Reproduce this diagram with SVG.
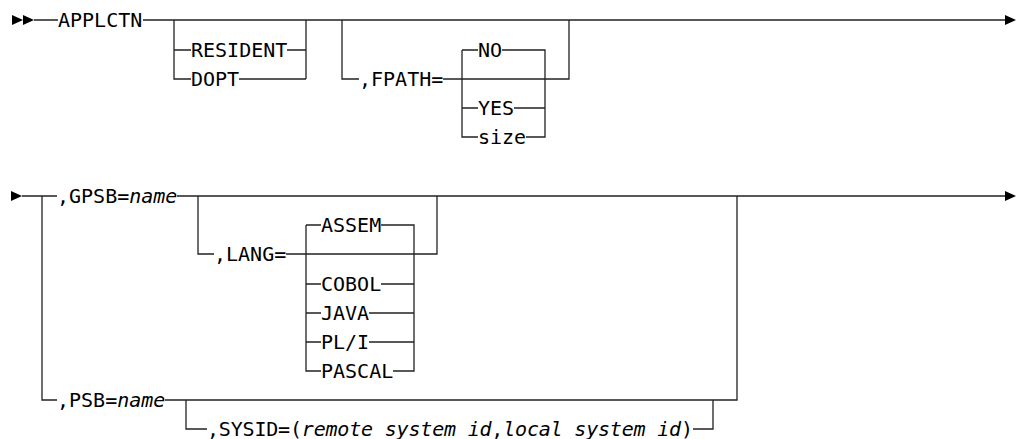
<svg xmlns="http://www.w3.org/2000/svg" width="1018" height="439" viewBox="0 0 1018 439">
<defs>
<style>
.t{font-family:"DejaVu Sans Mono","Liberation Mono",monospace;font-size:20px;fill:#000}
.i{font-style:italic}
.ln{fill:none;stroke:#222;stroke-width:1.3}
.ah{fill:#000;stroke:none}
</style>
<polygon id="tri" points="0,-5 11,0 0,5"/>
</defs>
<rect width="1018" height="439" fill="#fff"/>
<g id="connectors" class="ln">
<!-- row 1 -->
<path d="M34,20H58M143,20H1006"/>
<path d="M174,20V79H191M174,50H191M287,50H306M239,79H306M306,20V79"/>
<path d="M342,20V79H359M443,79H569V20"/>
<path d="M462,50V137H478M462,50H478M462,108H478M502,50H545V137H526M514,108H545"/>
<!-- row 2 -->
<path d="M22,196H57M177,196H1006"/>
<path d="M42,196V400H57M165,400H737V196"/>
<path d="M198,196V254H214M286,254H437V196"/>
<path d="M306,225V371H321M306,225H321M306,284H321M306,313H321M306,342H321"/>
<path d="M381,225H414V371H393M381,284H414M369,313H414M369,342H414"/>
<path d="M186,400V429H207M693,429H713V400"/>
</g>
<g id="arrows" class="ah">
<use href="#tri" x="12" y="20"/>
<use href="#tri" x="23" y="20"/>
<use href="#tri" x="1005" y="20"/>
<use href="#tri" x="11" y="196"/>
<use href="#tri" x="1005" y="196"/>
</g>
<g id="n-applctn"><text class="t" x="58" y="27">APPLCTN</text></g>
<g id="n-resident"><text class="t" x="191" y="57">RESIDENT</text></g>
<g id="n-dopt"><text class="t" x="191" y="86">DOPT</text></g>
<g id="n-fpath"><text class="t" x="359" y="86">,FPATH=</text></g>
<g id="n-no"><text class="t" x="478" y="57">NO</text></g>
<g id="n-yes"><text class="t" x="478" y="115">YES</text></g>
<g id="n-size"><text class="t" x="478" y="144">size</text></g>
<g id="n-gpsb"><text class="t" x="57" y="203">,GPSB=<tspan class="i">name</tspan></text></g>
<g id="n-lang"><text class="t" x="214" y="261">,LANG=</text></g>
<g id="n-assem"><text class="t" x="321" y="232">ASSEM</text></g>
<g id="n-cobol"><text class="t" x="321" y="291">COBOL</text></g>
<g id="n-java"><text class="t" x="321" y="320">JAVA</text></g>
<g id="n-pli"><text class="t" x="321" y="349">PL/I</text></g>
<g id="n-pascal"><text class="t" x="321" y="378">PASCAL</text></g>
<g id="n-psb"><text class="t" x="57" y="407">,PSB=<tspan class="i">name</tspan></text></g>
<g id="n-sysid"><text class="t" x="207" y="436" textLength="486" lengthAdjust="spacing">,SYSID=(<tspan class="i">remote system id</tspan>,<tspan class="i">local system id</tspan>)</text></g>
</svg>
